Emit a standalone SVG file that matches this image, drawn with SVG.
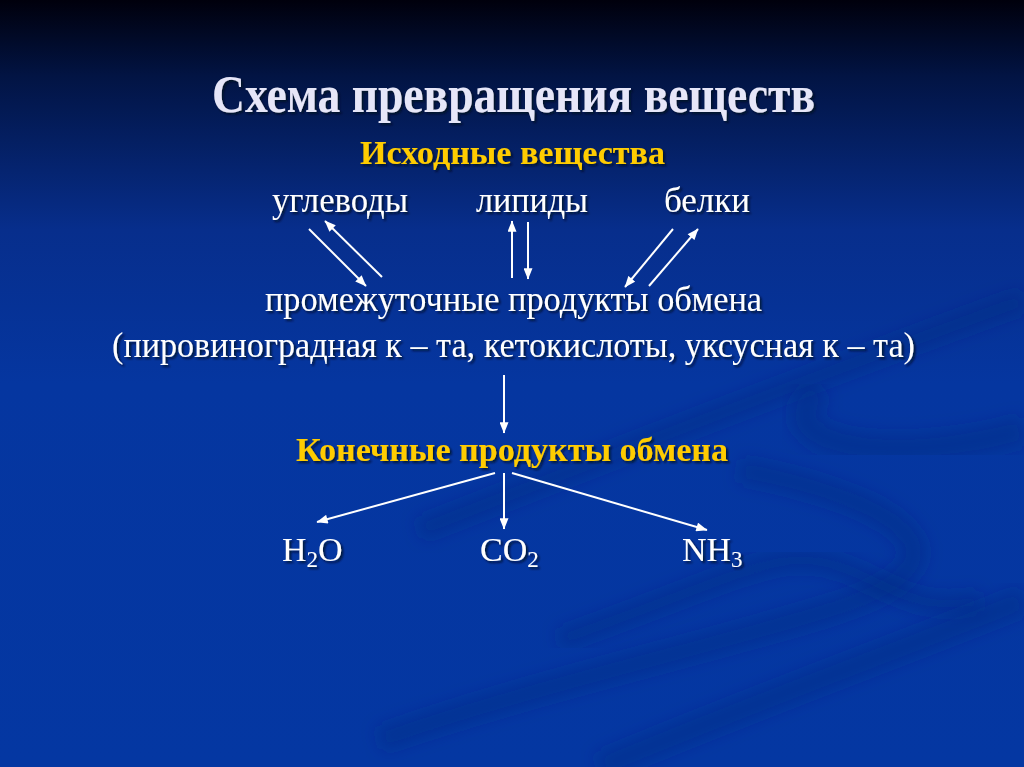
<svg xmlns="http://www.w3.org/2000/svg" width="1024" height="767" viewBox="0 0 1024 767">
<defs>
<linearGradient id="bg" x1="0" y1="0" x2="0" y2="1">
<stop offset="0" stop-color="#00000c"/>
<stop offset="0.1" stop-color="#021444"/>
<stop offset="0.3" stop-color="#072e8c"/>
<stop offset="0.5" stop-color="#0536a0"/>
<stop offset="1" stop-color="#0437a2"/>
</linearGradient>
<filter id="sh" x="-5%" y="-20%" width="110%" height="150%">
<feDropShadow dx="2" dy="2" stdDeviation="1" flood-color="#000820" flood-opacity="0.8"/>
</filter>
<filter id="blur"><feGaussianBlur stdDeviation="8"/></filter>
<marker id="a" viewBox="0 0 10 8" refX="9.5" refY="4" markerWidth="12" markerHeight="9" orient="auto" markerUnits="userSpaceOnUse">
<path d="M0,0 L10,4 L0,8 Z" fill="#ffffff"/>
</marker>
<style>
.t{font-family:"Liberation Serif","Times New Roman",serif;fill:#ffffff;filter:url(#sh)}
.title{font-size:52px;font-weight:bold;fill:#e6e6f8}
.y{font-size:33px;font-weight:bold;fill:#ffcc00}
.n{font-size:36px}
.f{font-size:34px}
.c{stroke:#ffffff;stroke-width:2;fill:none;marker-end:url(#a)}
.w{fill:none;stroke:#03297c;stroke-opacity:0.35;filter:url(#blur)}
</style>
</defs>
<rect width="1024" height="767" fill="url(#bg)"/>
<g id="background-waves">
<path class="w" stroke-width="22" d="M420,530 C700,420 940,330 1024,300"/>
<path class="w" stroke-width="28" d="M820,390 C760,440 880,470 1024,430"/>
<path class="w" stroke-width="24" d="M740,470 C900,500 990,560 830,610 C700,650 520,690 380,740"/>
<path class="w" stroke-width="20" d="M560,640 C700,590 760,560 800,560 C870,560 900,620 980,600"/>
<path class="w" stroke-width="26" d="M600,767 C760,700 900,650 1024,600"/>
</g>
<g id="title"><text class="t title" x="212" y="112" textLength="603" lengthAdjust="spacingAndGlyphs">Схема превращения веществ</text></g>
<g id="node-source"><text class="t y" x="360" y="164" textLength="305" lengthAdjust="spacingAndGlyphs">Исходные вещества</text></g>
<g id="node-carbs"><text class="t n" x="272" y="212" textLength="136" lengthAdjust="spacingAndGlyphs">углеводы</text></g>
<g id="node-lipids"><text class="t n" x="476" y="212" textLength="112" lengthAdjust="spacingAndGlyphs">липиды</text></g>
<g id="node-proteins"><text class="t n" x="664" y="212" textLength="86" lengthAdjust="spacingAndGlyphs">белки</text></g>
<g id="node-intermediate">
<text class="t n" x="265" y="311" textLength="497" lengthAdjust="spacingAndGlyphs">промежуточные продукты обмена</text>
<text class="t n" x="112" y="357" textLength="803" lengthAdjust="spacingAndGlyphs">(пировиноградная к – та, кетокислоты, уксусная к – та)</text>
</g>
<g id="node-final"><text class="t y" x="296" y="461" textLength="432" lengthAdjust="spacingAndGlyphs">Конечные продукты обмена</text></g>
<g id="node-h2o"><text class="t f" x="282" y="561">H<tspan font-size="23" dy="6">2</tspan><tspan dy="-6">O</tspan></text></g>
<g id="node-co2"><text class="t f" x="480" y="561">CO<tspan font-size="23" dy="6">2</tspan></text></g>
<g id="node-nh3"><text class="t f" x="682" y="561">NH<tspan font-size="23" dy="6">3</tspan></text></g>
<g id="connectors">
<line class="c" x1="309" y1="229" x2="366" y2="286"/>
<line class="c" x1="382" y1="277" x2="325" y2="221"/>
<line class="c" x1="512" y1="278" x2="512" y2="221"/>
<line class="c" x1="528" y1="222" x2="528" y2="279"/>
<line class="c" x1="673" y1="229" x2="625" y2="287"/>
<line class="c" x1="649" y1="286" x2="698" y2="229"/>
<line class="c" x1="504" y1="375" x2="504" y2="433"/>
<line class="c" x1="495" y1="473" x2="317" y2="522"/>
<line class="c" x1="504" y1="473" x2="504" y2="529"/>
<line class="c" x1="512" y1="473" x2="707" y2="530"/>
</g>
</svg>
